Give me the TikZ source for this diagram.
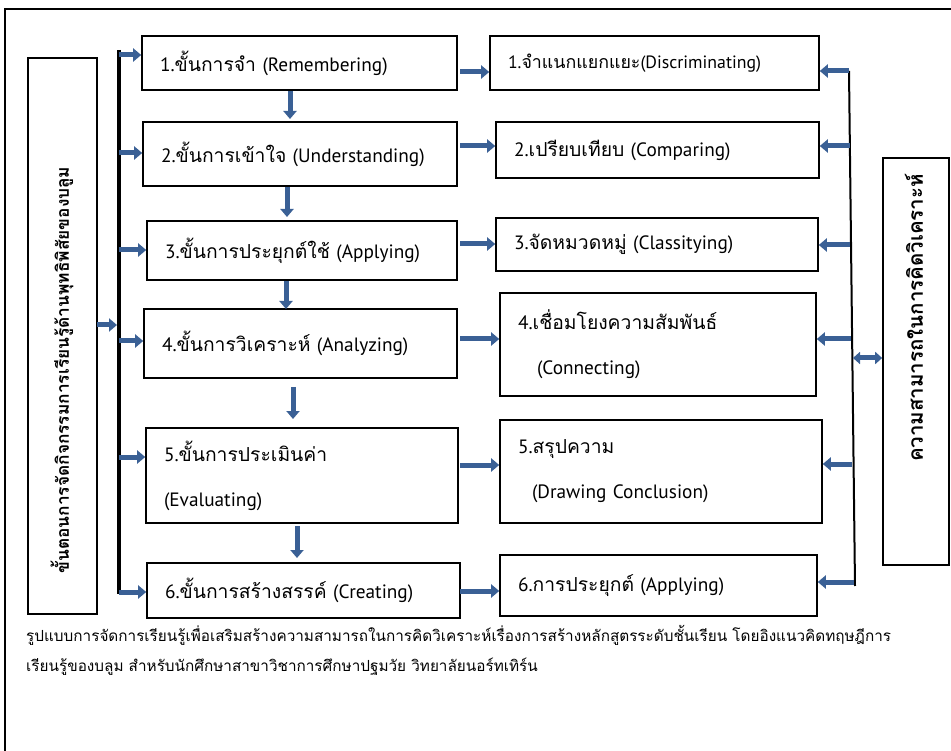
\documentclass[tikz,border=0pt]{standalone}
\usepackage{fontspec}
\setmainfont{PT Sans}
\newfontfamily\thai[Script=Thai]{Loma}
\usetikzlibrary{arrows.meta}
\definecolor{arrowblue}{HTML}{3A6095}
\tikzset{
  box/.style={draw, line width=1.6pt, fill=white, align=left, inner xsep=18pt, inner ysep=0pt, font=\fontsize{19.3}{23}\selectfont},
  barrow/.style={draw=arrowblue, line width=5pt, -{Triangle[length=8pt,width=13pt]}},
  darrow/.style={draw=arrowblue, line width=5pt, {Triangle[length=7pt,width=12pt]}-{Triangle[length=7pt,width=12pt]}},
  frame/.style={draw, line width=1.5pt},
}
\begin{document}
\begin{tikzpicture}[x=1pt,y=-1pt]
\useasboundingbox (0,0) rectangle (951,751);
\draw[frame] (951,9) -- (5,9) -- (5,751);

% left tall box
\node[draw, line width=1.6pt, minimum width=69pt, minimum height=556pt, inner sep=0pt] (LB) at (62.5,336) {};
\node[rotate=90, font=\thai\bfseries\fontsize{17.3}{20}\selectfont] (LBt) at (62,370) {ขั้นตอนการจัดกิจกรรมการเรียนรู้ด้านพุทธิพิสัยของบลูม};
% right tall box
\node[draw, line width=1.6pt, minimum width=66pt, minimum height=407pt, inner sep=0pt] (RB) at (916,361.5) {};
\node[rotate=90, font=\thai\bfseries\fontsize{20.5}{24}\selectfont] (RBt) at (914,318) {ความสามารถในการคิดวิเคราะห์};

% left column
\node[box, text width=279pt, minimum height=54pt] (L1) at (299.5,63) {1.{\thai ขั้นการจำ} (Remembering)};
\node[box, text width=278pt, minimum height=64pt] (L2) at (300,154) {2.{\thai ขั้นการเข้าใจ} (Understanding)};
\node[box, text width=274pt, minimum height=59pt] (L3) at (302,250.5) {3.{\thai ขั้นการประยุกต์ใช้} (Applying)};
\node[box, text width=277pt, minimum height=69pt] (L4) at (300.5,343.5) {4.{\thai ขั้นการวิเคราะห์} (Analyzing)};
\node[box, text width=276pt, minimum height=95pt] (L5) at (302,475.5) {5.{\thai ขั้นการประเมินค่า}\\[22pt](Evaluating)};
\node[box, text width=277pt, minimum height=55pt] (L6) at (303.5,590.5) {6.{\thai ขั้นการสร้างสรรค์} (Creating)};

% right column
\node[box, text width=293pt, minimum height=54pt] (R1) at (654.5,63) {{\fontsize{17.8}{21}\selectfont 1.{\thai จำแนกแยกแยะ}(Discriminating)}};
\node[box, text width=287pt, minimum height=56pt] (R2) at (657.5,150) {2.{\thai เปรียบเทียบ} (Comparing)};
\node[box, text width=286pt, minimum height=53pt] (R3) at (657,244.5) {3.{\thai จัดหมวดหมู่} (Classitying)};
\node[box, text width=280pt, minimum height=103pt] (R4) at (658,344.5) {4.{\thai เชื่อมโยงความสัมพันธ์}\\[22pt]\hspace*{19pt}(Connecting)};
\node[box, text width=286pt, minimum height=103pt] (R5) at (661,471.5) {5.{\thai สรุปความ}\\[22pt]\hspace*{14pt}(Drawing Conclusion)};
\node[box, text width=281pt, minimum height=61pt] (R6) at (658.5,585.5) {6.{\thai การประยุกต์} (Applying)};

% left black line
\coordinate (LT) at (119,50);
\coordinate (LBot) at (119,594);
\draw[line width=3.5pt] (LT) -- (LBot);
\coordinate (la) at (97,325);
\draw[barrow] (la) -- ([xshift=-2pt]la -| LT);

% arrows from the black line to the left boxes
\foreach \y/\n in {55/L1,153/L2,250/L3,341/L4,457/L5,592/L6}{
  \coordinate (a\n) at (119,\y);
  \draw[barrow] (a\n) -- (a\n -| \n.west);
}

% down arrows
\draw[barrow] (290,91) -- (290,119);
\draw[barrow] (287,187) -- (287,217);
\draw[barrow] (286,281) -- (286,309);
\draw[barrow] (293,387) -- (293,419);
\draw[barrow] (297,526) -- (297,558);

% across arrows
\foreach \y/\a/\b in {72/L1/R1,146/L2/R2,244/L3/R3,339/L4/R4,465/L5/R5,591/L6/R6}{
  \coordinate (m\a) at (460,\y);
  \draw[barrow] (m\a) -- (m\a -| \b.west);
}

% right line
\coordinate (RT) at (849,71);
\coordinate (RBot) at (855,586);
\draw[line width=2pt] (RT) -- (RBot);
\foreach \x/\y/\n in {849/71/R1,850/146/R2,850/245/R3,851/339/R4,852/464/R5,854/582/R6}{
  \coordinate (r\n) at (\x,\y);
  \draw[barrow] (r\n) -- (r\n -| \n.east);
}
\coordinate (dd) at (853,358);
\draw[darrow] (dd) -- (dd -| RB.west);

% caption
\node[anchor=north west, align=left, inner sep=0pt, font=\thai\fontsize{15.3}{30}\selectfont] (cap) at (26,625) {รูปแบบการจัดการเรียนรู้เพื่อเสริมสร้างความสามารถในการคิดวิเคราะห์เรื่องการสร้างหลักสูตรระดับชั้นเรียน โดยอิงแนวคิดทฤษฎีการ\\เรียนรู้ของบลูม สำหรับนักศึกษาสาขาวิชาการศึกษาปฐมวัย วิทยาลัยนอร์ทเทิร์น};
\end{tikzpicture}
\end{document}
